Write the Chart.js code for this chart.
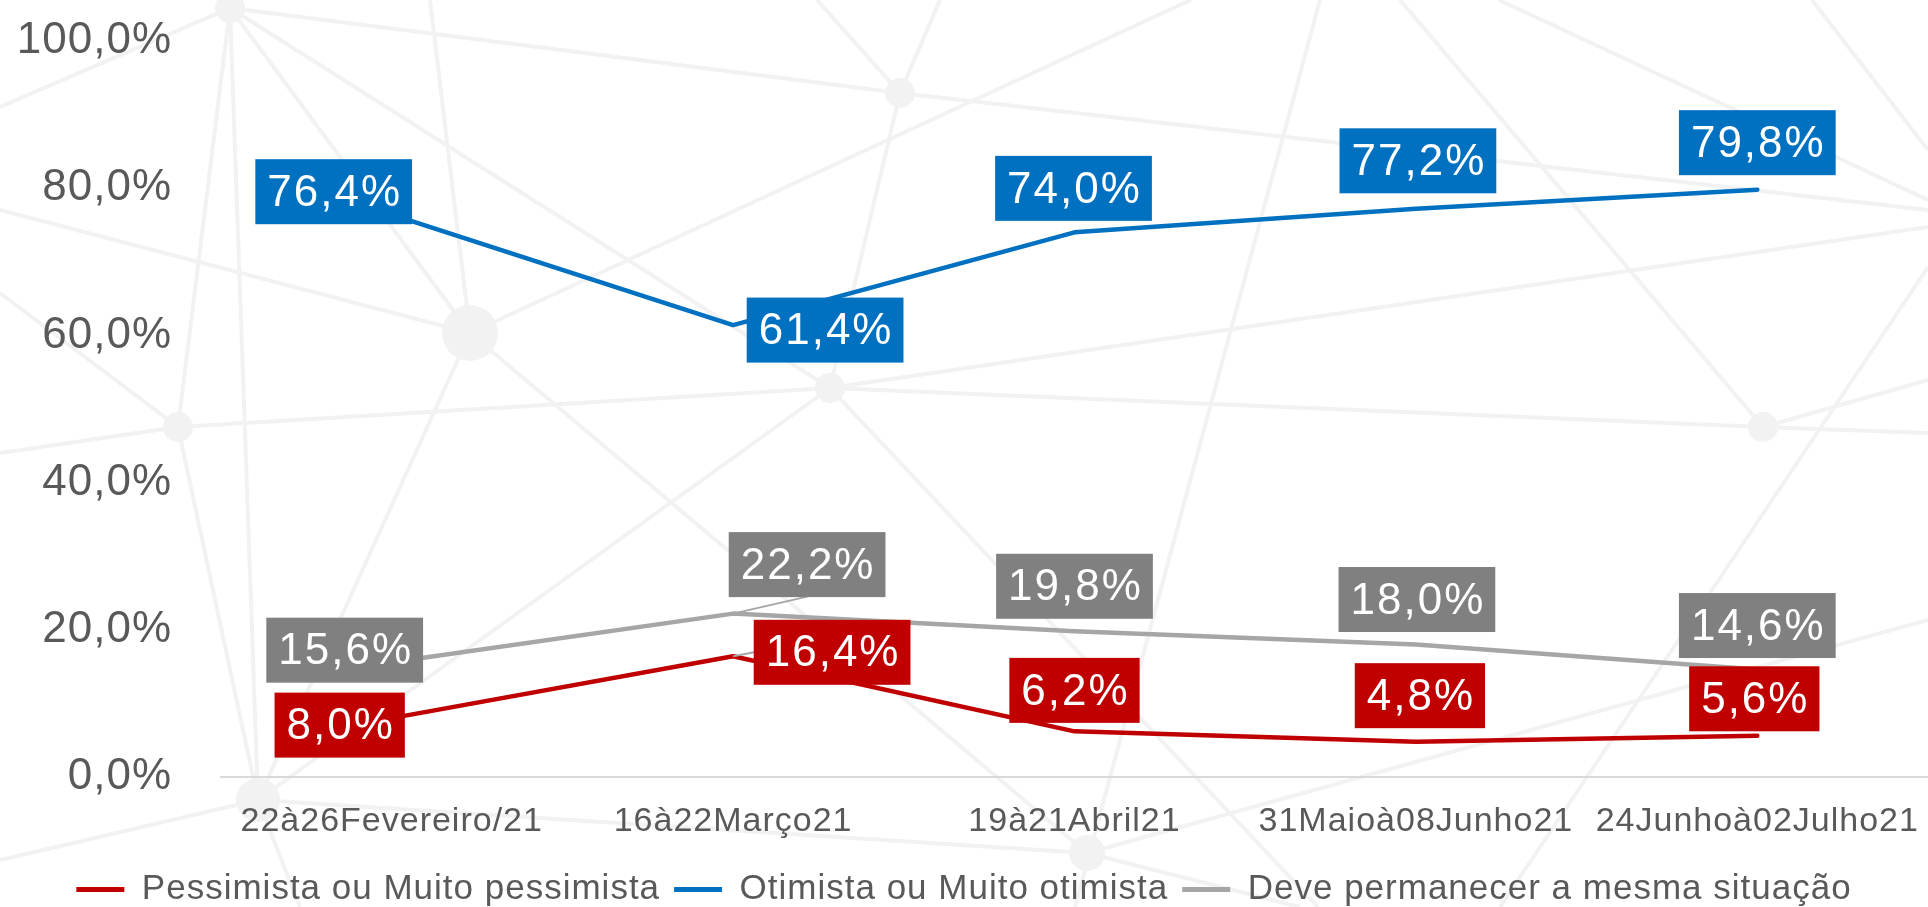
<!DOCTYPE html>
<html>
<head>
<meta charset="utf-8">
<script src="https://cdn.jsdelivr.net/npm/chart.js@4.4.1/dist/chart.umd.min.js"></script>
<style>
	html, body { margin: 0; padding: 0; background: #fff; overflow: hidden; }
	#wrap { width: 1928px; height: 917px; }
</style>
</head>
<body>
<div id="wrap"><canvas id="chart"></canvas></div>
<script>
const categories = ['22à26Fevereiro/21', '16à22Março21', '19à21Abril21', '31Maioà08Junho21', '24Junhoà02Julho21'];
const pessimista = [8.0, 16.4, 6.2, 4.8, 5.6];
const otimista = [76.4, 61.4, 74.0, 77.2, 79.8];
const mesmaSituacao = [15.6, 22.2, 19.8, 18.0, 14.6];
const yTicks = [0, 20, 40, 60, 80, 100];

const FONT = '"Liberation Sans", Arial, sans-serif';
const GREY_TEXT = '#595959';

function fmt(v){
	return v.toFixed(1).replace('.', ',') + '%';
}

// faint network picture behind the chart
const backdrop = {
	id: 'backdrop',
	beforeDraw(chart){
		const ctx = chart.ctx;
		const A = [230, 8], B = [470, 333], C = [178, 427], D = [900, 93], E = [830, 388], F = [1763, 427], G = [258, 800], H = [1087, 853];
		const lines = [
			[[0, 107], A], [A, D], [D, [1928, 210]], [A, B], [A, E], [A, C], [A, G],
			[[0, 210], B], [B, [1191, 0]], [[430, 0], B], [C, E], [E, F], [F, [1928, 433]],
			[[940, 0], D], [D, E], [[817, 0], D], [E, [1928, 227]], [E, G], [E, [1318, 907]],
			[B, G], [B, H], [[0, 293], C], [C, [0, 453]], [C, G],
			[[1320, 0], [1075, 907]], [[1400, 0], F], [[1499, 0], [1928, 200]], [[1812, 0], [1928, 150]],
			[[1928, 267], [1500, 907]], [F, [1928, 380]],
			[G, H], [G, [0, 860]], [H, [1928, 620]], [H, [1300, 907]], [G, [300, 907]]
		];
		ctx.save();
		ctx.fillStyle = '#fff';
		ctx.fillRect(0, 0, chart.width, chart.height);
		ctx.strokeStyle = '#F2F2F2';
		ctx.lineWidth = 4;
		lines.forEach(l => {
			ctx.beginPath();
			ctx.moveTo(l[0][0], l[0][1]);
			ctx.lineTo(l[1][0], l[1][1]);
			ctx.stroke();
		});
		ctx.fillStyle = '#F2F2F2';
		[[A, 15], [B, 28], [C, 15], [D, 15], [E, 15], [F, 15], [G, 22], [H, 18]].forEach(n => {
			ctx.beginPath();
			ctx.arc(n[0][0], n[0][1], n[1], 0, Math.PI * 2);
			ctx.fill();
		});
		ctx.restore();
	}
};

// a bit of tracking on all chart text, like the original
const tracking = {
	id: 'tracking',
	beforeLayout(chart){ chart.ctx.letterSpacing = '1px'; },
	beforeDraw(chart){ chart.ctx.letterSpacing = '1px'; }
};

// boxed value labels, placed relative to each point
const boxLabels = {
	id: 'boxLabels',
	afterDatasetsDraw(chart){
		const ctx = chart.ctx;
		const order = [2, 1, 0];
		ctx.save();
		ctx.font = '44px ' + FONT;
		ctx.letterSpacing = '2px';
		ctx.textAlign = 'center';
		ctx.textBaseline = 'middle';

		order.forEach(i => {
			const ds = chart.data.datasets[i];
			chart.getDatasetMeta(i).data.forEach((pt, j) => {
				if (!ds.labelLeaders[j]) return;
				const off = ds.labelOffsets[j];
				ctx.strokeStyle = '#A6A6A6';
				ctx.lineWidth = 2;
				ctx.beginPath();
				ctx.moveTo(pt.x, pt.y);
				ctx.lineTo(pt.x + off[0] + ds.labelLeaders[j][0], pt.y + off[1] + ds.labelLeaders[j][1]);
				ctx.stroke();
			});
		});

		order.forEach(i => {
			const ds = chart.data.datasets[i];
			chart.getDatasetMeta(i).data.forEach((pt, j) => {
				const off = ds.labelOffsets[j];
				const cx = pt.x + off[0], cy = pt.y + off[1];
				const txt = fmt(ds.data[j]);
				const w = ctx.measureText(txt).width + 22, h = 65;
				ctx.fillStyle = ds.labelColor;
				ctx.fillRect(cx - w / 2, cy - h / 2, w, h);
				ctx.fillStyle = '#fff';
				ctx.fillText(txt, cx + 1, cy + 2);
			});
		});
		ctx.restore();
	}
};

const ctx = document.getElementById('chart');
new Chart(ctx, {
	type: 'line',
	data: {
		labels: categories,
		datasets: [{
			label: 'Pessimista ou Muito pessimista',
			data: pessimista,
			borderColor: '#C00000',
			backgroundColor: '#C00000',
			labelColor: '#C00000',
			labelOffsets: [[-52, 7], [99, -4], [0, -41], [4, -46], [-3, -37]],
			labelLeaders: [null, [-78, 0], null, null, null]
		}, {
			label: 'Otimista ou Muito otimista',
			data: otimista,
			borderColor: '#0070C0',
			backgroundColor: '#0070C0',
			labelColor: '#0070C0',
			labelOffsets: [[-58, -23], [92, 5], [-1, -44], [2, -48], [0, -47]],
			labelLeaders: [null, null, null, null, null]
		}, {
			label: 'Deve permanecer a mesma situação',
			data: mesmaSituacao,
			borderColor: '#A6A6A6',
			backgroundColor: '#A6A6A6',
			labelColor: '#808080',
			labelOffsets: [[-47, -12], [74, -49], [0, -45], [1, -45], [0, -44]],
			labelLeaders: [null, [0, 32], null, null, null]
		}]
	},
	options: {
		responsive: true,
		maintainAspectRatio: false,
		animation: false,
		devicePixelRatio: 1,
		layout: { padding: { top: 41, left: 0, right: 0, bottom: 0 } },
		elements: {
			line: { borderWidth: 4.5, tension: 0, borderCapStyle: 'round', borderJoinStyle: 'round' },
			point: { radius: 0, hoverRadius: 0 }
		},
		scales: {
			x: {
				offset: true,
				grid: { display: false, drawTicks: false },
				border: { display: true, color: '#D9D9D9', width: 2 },
				ticks: {
					autoSkip: false,
					maxRotation: 0,
					padding: 24,
					color: GREY_TEXT,
					font: { family: FONT, size: 34 }
				},
				afterFit: s => { s.height = 81; s.paddingLeft = 0; s.paddingRight = 0; }
			},
			y: {
				min: 0,
				max: 100,
				afterBuildTicks: s => { s.ticks = yTicks.map(v => ({ value: v })); },
				grid: { display: false, drawTicks: false },
				border: { display: false },
				ticks: {
					padding: 49,
					color: GREY_TEXT,
					font: { family: FONT, size: 44 },
					callback: v => fmt(v)
				},
				afterFit: s => { s.width = 221; s.paddingTop = 0; s.paddingBottom = 0; }
			}
		},
		plugins: {
			tooltip: { enabled: false },
			legend: {
				position: 'bottom',
				labels: {
					boxWidth: 48,
					boxHeight: 5,
					padding: 14,
					color: GREY_TEXT,
					font: { family: FONT, size: 35 },
					generateLabels: chart => Chart.defaults.plugins.legend.labels.generateLabels(chart).map(l => Object.assign(l, { lineWidth: 0 }))
				}
			}
		}
	},
	plugins: [backdrop, tracking, boxLabels]
});
</script>
</body>
</html>
